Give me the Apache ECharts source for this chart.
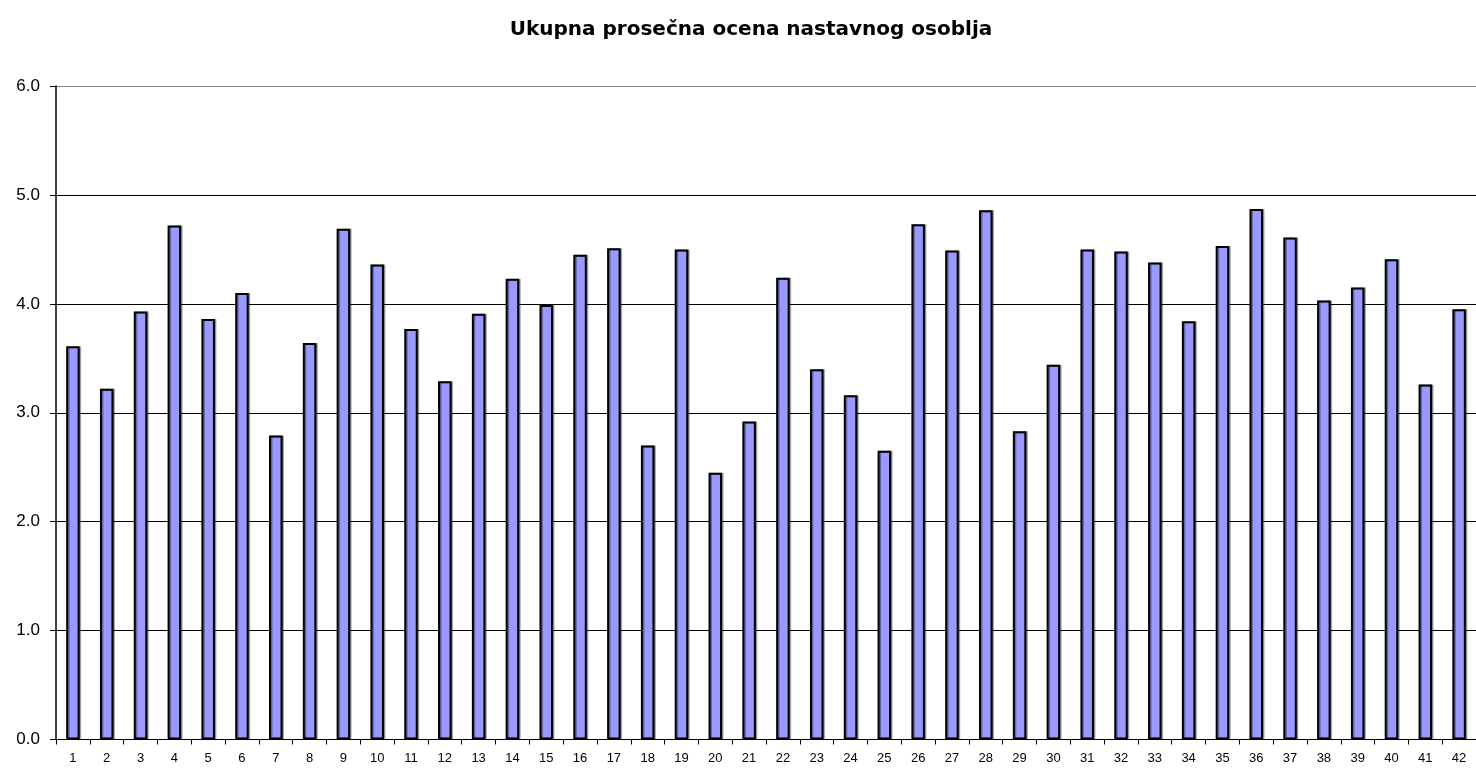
<!DOCTYPE html>
<html>
<head>
<meta charset="utf-8">
<title>Ukupna prosečna ocena nastavnog osoblja</title>
<script src="https://cdn.jsdelivr.net/npm/echarts@6/dist/echarts.min.js"></script>
<style>
  html, body { margin: 0; padding: 0; background: #fff; }
  #chart { width: 1476px; height: 771px; }
</style>
</head>
<body>
<div id="chart"></div>
<script>
// kategorije (redni broj nastavnika)
const categories = [];
for (let i = 1; i <= 42; i++) categories.push(String(i));

// prosečne ocene, očitane sa slike
const scores = [
  3.61, 3.22, 3.93, 4.72, 3.86, 4.10, 2.79, 3.64, 4.69, 4.36,
  3.77, 3.29, 3.91, 4.23, 3.99, 4.45, 4.51, 2.70, 4.50, 2.45,
  2.92, 4.24, 3.40, 3.16, 2.65, 4.73, 4.49, 4.86, 2.83, 3.44,
  4.50, 4.48, 4.38, 3.84, 4.53, 4.87, 4.61, 4.03, 4.15, 4.41,
  3.26, 3.95
];

const yTicks = [0, 1, 2, 3, 4, 5, 6];

const myChart = echarts.init(document.getElementById("chart"));

const option = {
  animation: false,
  title: {
    text: "Ukupna prosečna ocena nastavnog osoblja",
    left: 746,
    top: 15,
    textAlign: "center",
    textStyle: {
      fontFamily: "DejaVu Sans, sans-serif",
      fontSize: 20,
      fontWeight: "bold",
      color: "#000",
    },
  },
  grid: {
    left: 56,
    right: -7,
    top: 86,
    bottom: 31.5,
  },
  xAxis: {
    type: "category",
    data: categories,
    axisLine: { lineStyle: { color: "#000", width: 1 } },
    axisTick: { show: true, length: 5, lineStyle: { color: "#000" } },
    axisLabel: {
      color: "#000",
      fontSize: 13,
      margin: 12,
      fontFamily: "Liberation Sans, Arial, sans-serif",
      interval: 0,
    },
    splitLine: { show: false },
  },
  yAxis: {
    type: "value",
    min: yTicks[0],
    max: yTicks[yTicks.length - 1],
    interval: 1,
    axisLine: { show: true, lineStyle: { color: "#000", width: 1.5 } },
    axisTick: { show: true, length: 6, lineStyle: { color: "#000" } },
    axisLabel: {
      color: "#000",
      fontSize: 17,
      margin: 16,
      fontFamily: "Liberation Sans, Arial, sans-serif",
      formatter: (v) => v.toFixed(1),
    },
    splitLine: {
      show: true,
      lineStyle: {
        color: ["#000", "#000", "#000", "#000", "#000", "#000", "#888"],
        width: 1,
      },
    },
  },
  series: [
    {
      type: "bar",
      data: scores,
      barWidth: 13.5,
      itemStyle: {
        color: "#9999ff",
        borderColor: "#000",
        borderWidth: 2,
        shadowColor: "rgba(0,0,0,0.35)",
        shadowOffsetX: 1.5,
        shadowOffsetY: 0,
        shadowBlur: 0,
      },
    },
  ],
};

myChart.setOption(option);
</script>
</body>
</html>
